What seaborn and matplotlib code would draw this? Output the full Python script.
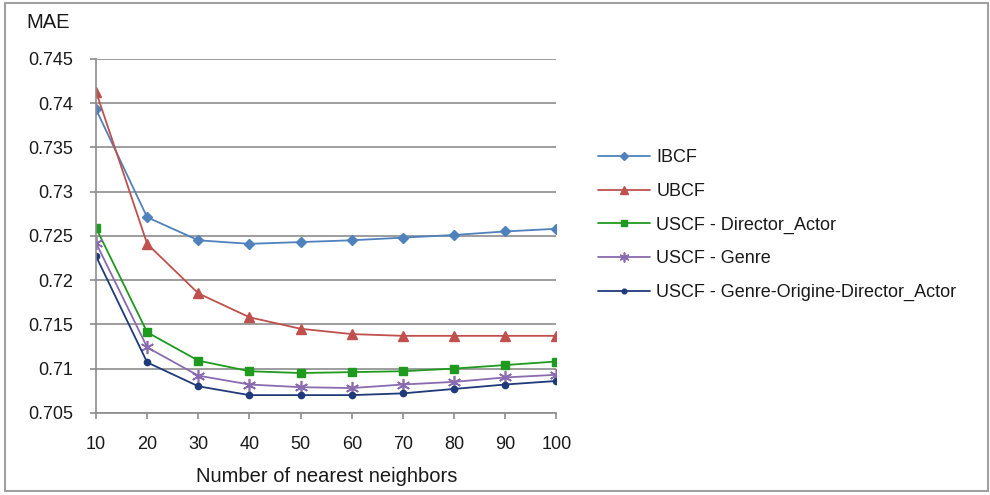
import numpy as np
import pandas as pd
import matplotlib
matplotlib.use("Agg")
import matplotlib.pyplot as plt
import seaborn as sns
from matplotlib.patches import Rectangle

# --- дані ---
neighbors = [10, 20, 30, 40, 50, 60, 70, 80, 90, 100]
ibcf = [0.7393, 0.7271, 0.7245, 0.7241, 0.7243, 0.7245, 0.7248, 0.7251, 0.7255, 0.7258]
ubcf = [0.7413, 0.7241, 0.7185, 0.7158, 0.7145, 0.7139, 0.7137, 0.7137, 0.7137, 0.7137]
uscf_da = [0.7259, 0.7141, 0.7109, 0.7097, 0.7095, 0.7096, 0.7097, 0.7100, 0.7104, 0.7108]
uscf_genre = [0.7242, 0.7124, 0.7092, 0.7082, 0.7079, 0.7078, 0.7082, 0.7085, 0.7090, 0.7093]
uscf_all = [0.7227, 0.7107, 0.7080, 0.7070, 0.7070, 0.7070, 0.7072, 0.7077, 0.7082, 0.7086]

series_names = ["IBCF", "UBCF", "USCF - Director_Actor", "USCF - Genre",
                "USCF - Genre-Origine-Director_Actor"]
y_ticks = [0.705, 0.71, 0.715, 0.72, 0.725, 0.73, 0.735, 0.74, 0.745]
y_tick_labels = ["0.705", "0.71", "0.715", "0.72", "0.725", "0.73", "0.735", "0.74", "0.745"]

sns.set_theme(style="white")
plt.rcParams["font.family"] = ["Liberation Sans", "DejaVu Sans"]

txt_color = "#1a1a1a"
styles = [
    dict(color="#4F81BD", marker="D", markersize=5.5),
    dict(color="#C0504D", marker="^", markersize=7.5),
    dict(color="#1E9A1E", marker="s", markersize=6),
    dict(color="#8A6BB0", marker=(6, 2, 0), markersize=9.5, markeredgewidth=1.2),
    dict(color="#1F3A7A", marker="o", markersize=4.5),
]

df = pd.DataFrame({"neighbors": neighbors})
for name, vals in zip(series_names, [ibcf, ubcf, uscf_da, uscf_genre, uscf_all]):
    df[name] = vals
long = df.melt(id_vars="neighbors", var_name="series", value_name="MAE")

fig = plt.figure(figsize=(9.9, 4.95), dpi=100)
ax = fig.add_axes([0.097, 0.166, 0.465, 0.715])

for name, st in zip(series_names, styles):
    sub = long[long["series"] == name]
    sns.lineplot(data=sub, x="neighbors", y="MAE", ax=ax, label=name,
                 color=st["color"], marker=st["marker"], markersize=st["markersize"],
                 markeredgecolor=st["color"], markeredgewidth=st.get("markeredgewidth", 1),
                 linewidth=1.3)

ax.set_xlim(10, 100)
ax.set_ylim(0.705, 0.745)
ax.set_yticks(y_ticks)
ax.set_yticklabels(y_tick_labels)
ax.set_xticks(neighbors)
ax.set_xticklabels([str(n) for n in neighbors])
ax.yaxis.grid(True, color="#8C8C8C", linewidth=1.2)
ax.set_axisbelow(True)
for side in ["top", "right"]:
    ax.spines[side].set_visible(False)
for side in ["left", "bottom"]:
    ax.spines[side].set_color("#8C8C8C")
    ax.spines[side].set_linewidth(1.2)
ax.tick_params(axis="both", which="both", length=4, width=1.2, color="#8C8C8C",
               direction="out", labelsize=13, labelcolor=txt_color, left=True, bottom=True)
ax.tick_params(axis="x", pad=13)
ax.tick_params(axis="y", pad=12.5)
ax.set_xlabel("Number of nearest neighbors", fontsize=14.5, color=txt_color, labelpad=10)
ax.set_ylabel("")

fig.text(0.027, 0.955, "MAE", fontsize=14.5, color=txt_color, ha="left", va="center")

leg = ax.legend(loc="center left", bbox_to_anchor=(1.055, 0.53), frameon=False,
                fontsize=13, handlelength=2.9, handletextpad=0.33, labelspacing=0.92,
                markerscale=0.75, labelcolor=txt_color)
for h in leg.get_lines():
    h.set_linewidth(1.3)

fig.patches.append(Rectangle((0.005, 0.008), 0.993, 0.985, transform=fig.transFigure,
                             fill=False, edgecolor="#A0A0A0", linewidth=1.5))

fig.savefig("out.png", dpi=100)
